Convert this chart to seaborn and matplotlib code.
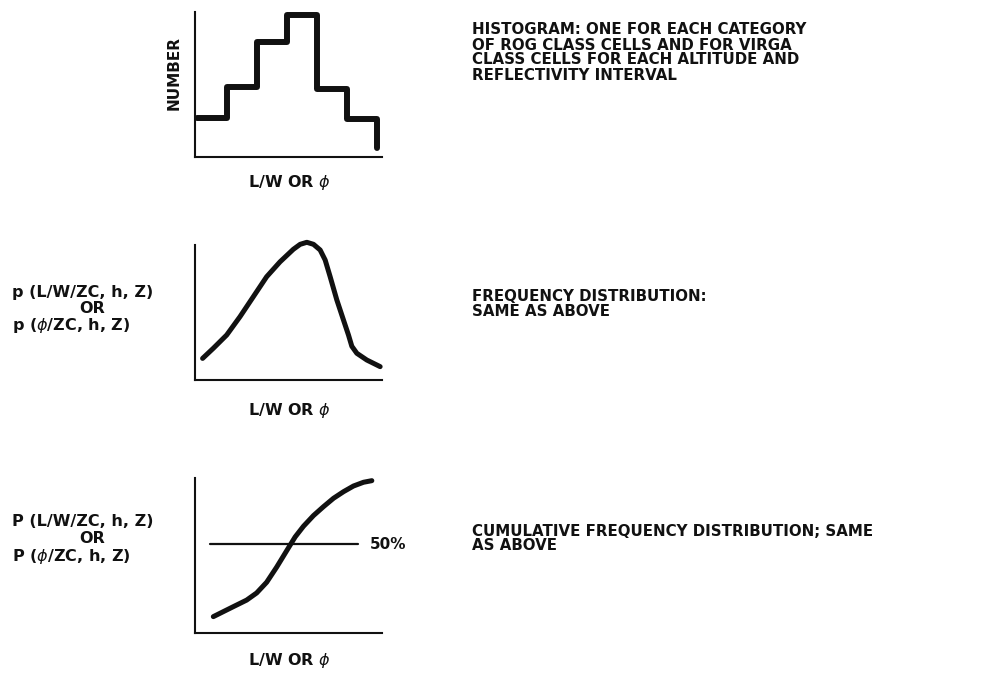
"""Schematic of the histogram / frequency / cumulative distribution panels."""
import matplotlib
matplotlib.use("Agg")
import matplotlib.pyplot as plt
import pandas as pd
import seaborn as sns

sns.set_theme(style="white")
plt.rcParams["font.family"] = ["DejaVu Sans"]
plt.rcParams["mathtext.fontset"] = "dejavusans"

W, H = 1003, 674
INK = "#111111"

# histogram: bin edges and counts (last value = where the final drop ends)
hist_edges = [0, 1, 2, 3, 4, 5, 6, 6]
hist_counts = [2.7, 4.8, 7.9, 9.8, 4.7, 2.6, 2.6, 0.6]

# frequency distribution p(L/W | ZC, h, Z)
freq_x = [0.41, 0.99, 1.71, 2.43, 3.15, 3.87, 4.59, 5.31, 5.68, 6.04, 6.40, 6.76,
          7.03, 7.30, 7.66, 8.02, 8.29, 8.47, 8.74, 9.28, 10.0]
freq_p = [0.16, 0.235, 0.333, 0.469, 0.617, 0.765, 0.875, 0.968, 1.005, 1.02, 1.005, 0.963,
          0.889, 0.765, 0.593, 0.444, 0.333, 0.250, 0.198, 0.148, 0.099]

# cumulative distribution P(L/W | ZC, h, Z)
cum_x = [0.99, 1.53, 2.07, 2.79, 3.33, 3.87, 4.41, 4.95, 5.41, 5.86, 6.40, 6.94,
         7.48, 8.02, 8.56, 9.10, 9.55]
cum_p = [0.092, 0.120, 0.148, 0.185, 0.225, 0.285, 0.370, 0.462, 0.540, 0.600, 0.660,
         0.710, 0.757, 0.794, 0.826, 0.847, 0.856]
median_x = [0.81, 8.81]
median_p = [0.5, 0.5]

x_label = "L/W OR $\\phi$"
freq_label = ["p (L/W/ZC, h, Z)", "OR", "p ($\\phi$/ZC, h, Z)"]
cum_label = ["P (L/W/ZC, h, Z)", "OR", "P ($\\phi$/ZC, h, Z)"]
right_notes = [
    ["HISTOGRAM: ONE FOR EACH CATEGORY", "OF ROG CLASS CELLS AND FOR VIRGA",
     "CLASS CELLS FOR EACH ALTITUDE AND", "REFLECTIVITY INTERVAL"],
    ["FREQUENCY DISTRIBUTION:", "SAME AS ABOVE"],
    ["CUMULATIVE FREQUENCY DISTRIBUTION; SAME", "AS ABOVE"],
]


def px_axes(fig, left, top, right, bottom):
    ax = fig.add_axes([left / W, 1 - bottom / H, (right - left) / W, (bottom - top) / H])
    ax.set_facecolor("none")
    sns.despine(ax=ax)
    for side in ("left", "bottom"):
        ax.spines[side].set_color(INK)
        ax.spines[side].set_linewidth(1.5)
    return ax


def clean(ax):
    ax.set_xticks([])
    ax.set_yticks([])
    ax.set_xlabel("")
    ax.set_ylabel("")


def ftext(x, y, s, **kw):
    kw.setdefault("fontsize", 10.8)
    kw.setdefault("fontweight", "bold")
    kw.setdefault("color", INK)
    kw.setdefault("va", "center")
    fig.text(x / W, 1 - y / H, s, **kw)


fig = plt.figure(figsize=(W / 100, H / 100), dpi=100)

# panel 1 - histogram
ax1 = px_axes(fig, 195, 12, 382, 157)
sns.lineplot(x=hist_edges, y=hist_counts, ax=ax1, estimator=None, sort=False,
             drawstyle="steps-post", color=INK, lw=4.3, clip_on=False)
ax1.set_xlim(-0.05, 6.17)
ax1.set_ylim(0, 10)
clean(ax1)

# panel 2 - frequency distribution
ax2 = px_axes(fig, 195, 245, 382, 380)
freq = pd.DataFrame({"x": freq_x, "p": freq_p})
sns.lineplot(data=freq, x="x", y="p", ax=ax2, estimator=None, color=INK,
             lw=3.6, solid_capstyle="round", solid_joinstyle="round", clip_on=False)
ax2.set_xlim(0, 10.1)
ax2.set_ylim(0, 1.0)
clean(ax2)

# panel 3 - cumulative distribution
ax3 = px_axes(fig, 195, 478, 382, 633)
cum = pd.DataFrame({"x": cum_x, "p": cum_p})
sns.lineplot(data=cum, x="x", y="p", ax=ax3, estimator=None, color=INK,
             lw=3.6, solid_capstyle="round", solid_joinstyle="round", clip_on=False)
sns.lineplot(x=median_x, y=median_p, ax=ax3, estimator=None, color=INK, lw=1.6)
ax3.set_xlim(0, 10.1)
ax3.set_ylim(0, 0.871)
clean(ax3)
ax3.text(9.45, 0.5, "50%", fontsize=11, fontweight="bold", color=INK, va="center")

# x labels under each panel
for y in (183, 410, 660):
    ftext(289, y, x_label, ha="center", fontsize=11.5)

# y labels, one text per line
ftext(174, 73, "NUMBER", ha="center", rotation=90, fontsize=11)
for ys, lines in (((292, 308.5, 325), freq_label), ((521, 538.5, 556), cum_label)):
    ftext(12, ys[0], lines[0], ha="left", fontsize=11.5)
    ftext(92, ys[1], lines[1], ha="center", fontsize=11.5)
    ftext(12, ys[2], lines[2], ha="left", fontsize=11.5)

# notes on the right, one text per line
for top, lines in zip((30, 296, 531), right_notes):
    for i, line in enumerate(lines):
        ftext(472, top + 15 * i, line, ha="left")

fig.savefig("out.png", dpi=100)
